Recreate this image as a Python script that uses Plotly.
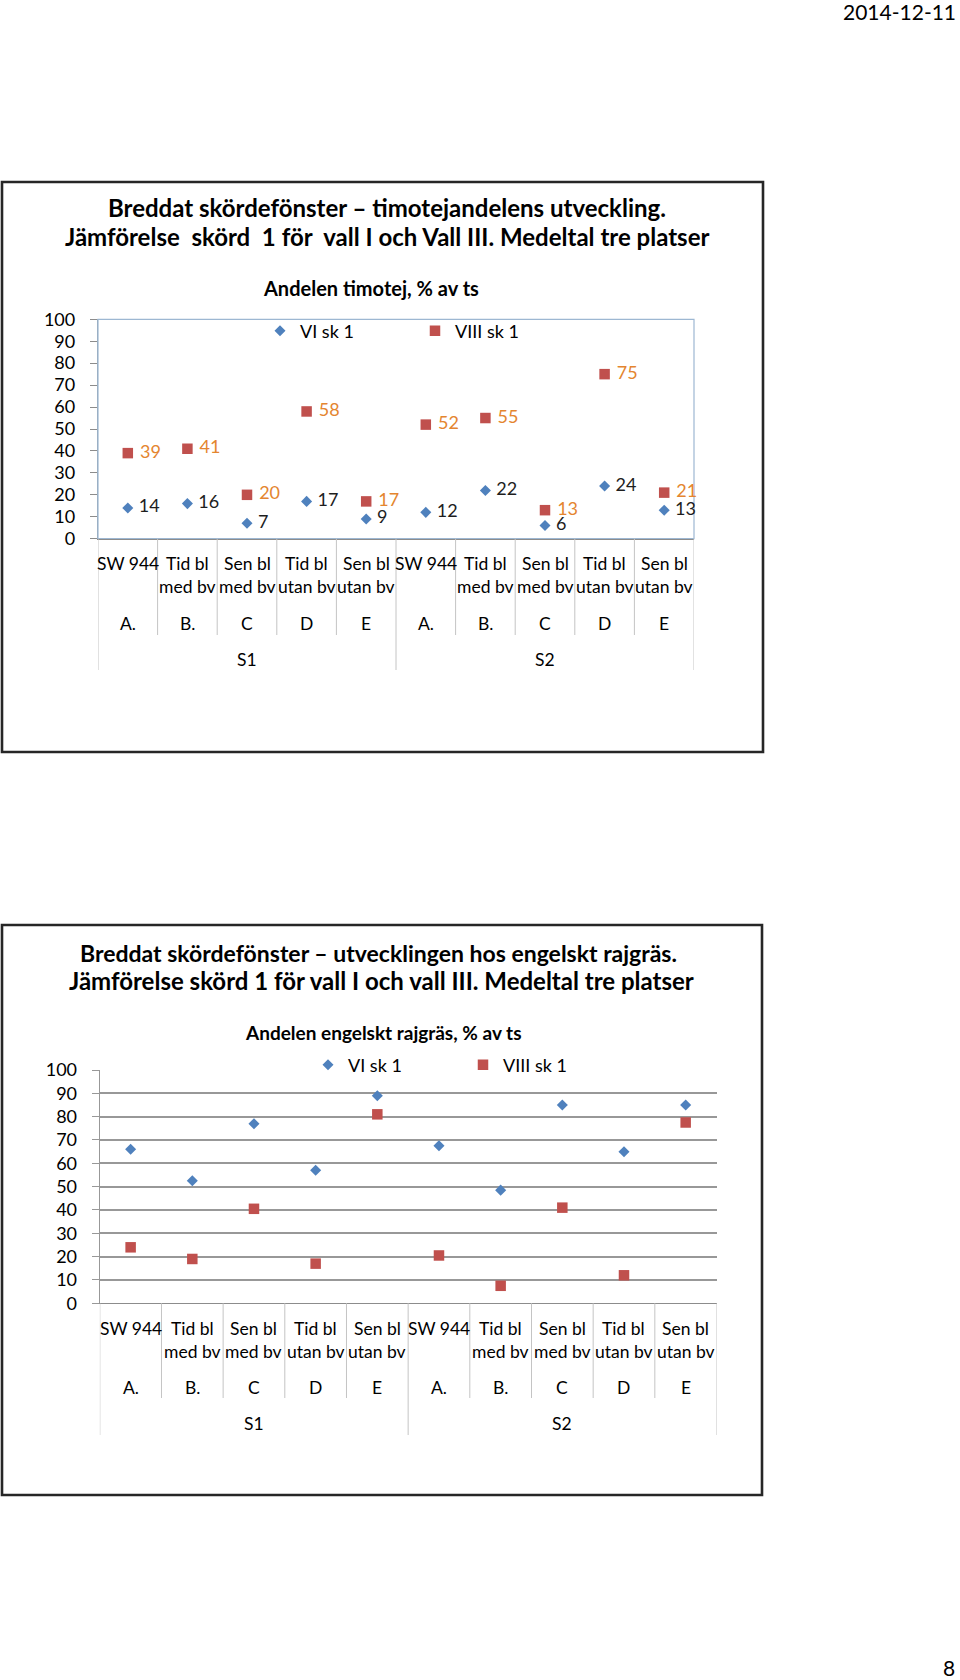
import plotly.graph_objects as go

W, H = 960, 1680

# ---------------- data ----------------
groups = ["S1", "S1", "S1", "S1", "S1", "S2", "S2", "S2", "S2", "S2"]
letters = ["A.", "B.", "C", "D", "E", "A.", "B.", "C", "D", "E"]
label_line1 = ["SW 944", "Tid bl", "Sen bl", "Tid bl", "Sen bl",
               "SW 944", "Tid bl", "Sen bl", "Tid bl", "Sen bl"]
label_line2 = ["", "med bv", "med bv", "utan bv", "utan bv",
               "", "med bv", "med bv", "utan bv", "utan bv"]
categories = [f"{g} {l}" for g, l in zip(groups, letters)]

series_names = ["VI sk 1", "VIII sk 1"]
timotej_vi = [14, 16, 7, 17, 9, 12, 22, 6, 24, 13]
timotej_viii = [39, 41, 20, 58, 17, 52, 55, 13, 75, 21]
rajgras_vi = [66, 52.5, 77, 57, 89, 67.5, 48.5, 85, 65, 85]
rajgras_viii = [24, 19, 40.5, 17, 81, 20.5, 7.5, 41, 12, 77.5]

y_ticks = [0, 10, 20, 30, 40, 50, 60, 70, 80, 90, 100]

# ---------------- style ----------------
FONT = "Lato, 'Open Sans', sans-serif"
BLUE = "#4F81BD"
RED = "#C0504D"
ORANGE = "#E4852F"
DARK = "#1E1E1E"
AXIS = "#8C8C8C"
DIV = "#C4C4C4"
FS = 18
CAT_FS = 17.5


def px(x):
    return x / W


def py(y):
    return 1 - y / H


fig = go.Figure()

# chart 1 traces
fig.add_trace(go.Scatter(
    x=categories, y=timotej_vi, name=series_names[0], mode="markers+text",
    text=[f" {v}" for v in timotej_vi], textposition="middle right",
    textfont=dict(family=FONT, size=FS, color=DARK),
    marker=dict(symbol="diamond", size=8.5, color=BLUE),
    xaxis="x", yaxis="y", legend="legend", cliponaxis=False, hoverinfo="x+y"))
fig.add_trace(go.Scatter(
    x=categories, y=timotej_viii, name=series_names[1], mode="markers+text",
    text=[f" {v}" for v in timotej_viii], textposition="middle right",
    textfont=dict(family=FONT, size=FS, color=ORANGE),
    marker=dict(symbol="square", size=10.5, color=RED),
    xaxis="x", yaxis="y", legend="legend", cliponaxis=False, hoverinfo="x+y"))

# chart 2 traces
fig.add_trace(go.Scatter(
    x=categories, y=rajgras_vi, name=series_names[0], mode="markers",
    marker=dict(symbol="diamond", size=8.5, color=BLUE),
    xaxis="x2", yaxis="y2", legend="legend2", cliponaxis=False))
fig.add_trace(go.Scatter(
    x=categories, y=rajgras_viii, name=series_names[1], mode="markers",
    marker=dict(symbol="square", size=10.5, color=RED),
    xaxis="x2", yaxis="y2", legend="legend2", cliponaxis=False))

# geometry of the two chart panels (pixels)
P1 = dict(left=98, right=694, top=319.3, bottom=538.7,
          row1=563.3, row2=586.7, row3=623.3, row4=660, div=635, gdiv=670)
P2 = dict(left=99.8, right=716.5, top=1070, bottom=1303.3,
          row1=1328, row2=1351.7, row3=1387, row4=1423, div=1398, gdiv=1435)


def xaxis_cfg(p, anchor):
    return dict(domain=[px(p["left"]), px(p["right"])], anchor=anchor,
                type="category", categoryorder="array", categoryarray=categories,
                range=[-0.5, len(categories) - 0.5], showticklabels=False,
                ticks="", showline=True, linecolor=AXIS, linewidth=1.2,
                showgrid=False, zeroline=False, automargin=False)


def yaxis_cfg(p, anchor, grid):
    return dict(domain=[py(p["bottom"]), py(p["top"])], anchor=anchor,
                range=[0, 100], tickmode="array", tickvals=y_ticks,
                ticks="outside", ticklen=7,
                tickcolor="#989898" if grid else AXIS,
                showline=True, linecolor="#989898" if grid else "#9AAFC4",
                linewidth=1.3, showgrid=grid, gridcolor="#989898", gridwidth=1.6,
                zeroline=False, ticklabelstandoff=11, automargin=False,
                tickfont=dict(family=FONT, size=FS, color="#000000"))


layout = dict(
    width=W, height=H, autosize=False,
    margin=dict(l=0, r=0, t=0, b=0, pad=0, autoexpand=False),
    paper_bgcolor="white", plot_bgcolor="rgba(0,0,0,0)",
    font=dict(family=FONT, color="#000000"),
    xaxis=xaxis_cfg(P1, "y"), yaxis=yaxis_cfg(P1, "x", False),
    xaxis2=xaxis_cfg(P2, "y2"), yaxis2=yaxis_cfg(P2, "x2", True),
    legend=dict(orientation="h", x=px(260), y=py(331), xanchor="left", yanchor="middle",
                font=dict(family=FONT, size=FS, color="#000000"),
                entrywidth=110, entrywidthmode="pixels", bgcolor="rgba(0,0,0,0)",
                itemclick=False, itemdoubleclick=False),
    legend2=dict(orientation="h", x=px(308), y=py(1065), xanchor="left", yanchor="middle",
                 font=dict(family=FONT, size=FS, color="#000000"),
                 entrywidth=110, entrywidthmode="pixels", bgcolor="rgba(0,0,0,0)",
                 itemclick=False, itemdoubleclick=False),
)
fig.update_layout(**layout)

shapes = []
annotations = []

# outer frames
for (x0, y0, x1, y1) in [(2, 182, 763, 752), (2, 925, 762, 1495)]:
    shapes.append(dict(type="rect", xref="paper", yref="paper",
                       x0=px(x0), x1=px(x1), y0=py(y1), y1=py(y0),
                       line=dict(color="#262626", width=2.6), layer="below"))

# plot-area border for chart 1
shapes.append(dict(type="rect", xref="x domain", yref="y domain", x0=0, x1=1, y0=0, y1=1,
                   line=dict(color="#9DB7D2", width=1.2), layer="below"))

# category dividers and multi-level labels
n = len(categories)
group_bounds = [0] + [i for i in range(1, n) if groups[i] != groups[i - 1]] + [n]
for xr, p in [("x", P1), ("x2", P2)]:
    for i in range(n + 1):
        bottom = p["gdiv"] if i in group_bounds else p["div"]
        shapes.append(dict(type="line", xref=xr, yref="paper",
                           x0=i - 0.5, x1=i - 0.5, y0=py(p["bottom"]), y1=py(bottom),
                           line=dict(color=DIV, width=1)))
    for i, c in enumerate(categories):
        for txt, row in [(label_line1[i], "row1"), (label_line2[i], "row2"), (letters[i], "row3")]:
            if txt:
                annotations.append(dict(xref=xr, yref="paper", x=c, y=py(p[row]),
                                        text=txt, showarrow=False, xanchor="center",
                                        yanchor="middle",
                                        font=dict(family=FONT, size=CAT_FS, color="#000000")))
    for a, b in zip(group_bounds[:-1], group_bounds[1:]):
        annotations.append(dict(xref=xr, yref="paper", x=(a + b - 1) / 2, y=py(p["row4"]),
                                text=groups[a], showarrow=False, xanchor="center",
                                yanchor="middle",
                                font=dict(family=FONT, size=CAT_FS, color="#000000")))

# titles
titles = [
    ("Breddat skördefönster – timotejandelens utveckling.", 387, 207, 24),
    ("Jämförelse\u00a0 skörd\u00a0 1 för\u00a0 vall I och Vall III. Medeltal tre platser", 387, 237, 24),
    ("Andelen timotej, % av ts", 371, 288, 20),
    ("Breddat skördefönster – utvecklingen hos engelskt rajgräs.", 378, 953, 23),
    ("Jämförelse skörd 1 för vall I och vall III. Medeltal tre platser", 381, 980, 24),
    ("Andelen engelskt rajgräs, % av ts", 383, 1032, 19),
]
for txt, x, y, s in titles:
    annotations.append(dict(xref="paper", yref="paper", x=px(x), y=py(y),
                            text=f"<b>{txt}</b>", showarrow=False,
                            xanchor="center", yanchor="middle",
                            font=dict(family=FONT, size=s, color="#000000")))

# page header / footer
annotations.append(dict(xref="paper", yref="paper", x=px(958), y=py(12), text="2014-12-11",
                        showarrow=False, xanchor="right", yanchor="middle",
                        font=dict(family=FONT, size=21, color="#000000")))
annotations.append(dict(xref="paper", yref="paper", x=px(957), y=py(1667), text="8",
                        showarrow=False, xanchor="right", yanchor="middle",
                        font=dict(family=FONT, size=21, color="#000000")))

fig.update_layout(shapes=shapes, annotations=annotations)

fig.write_html("out.html", config={"displayModeBar": False},
               post_script="document.body.style.margin='0px';"
                           "document.body.style.overflow='hidden';")
